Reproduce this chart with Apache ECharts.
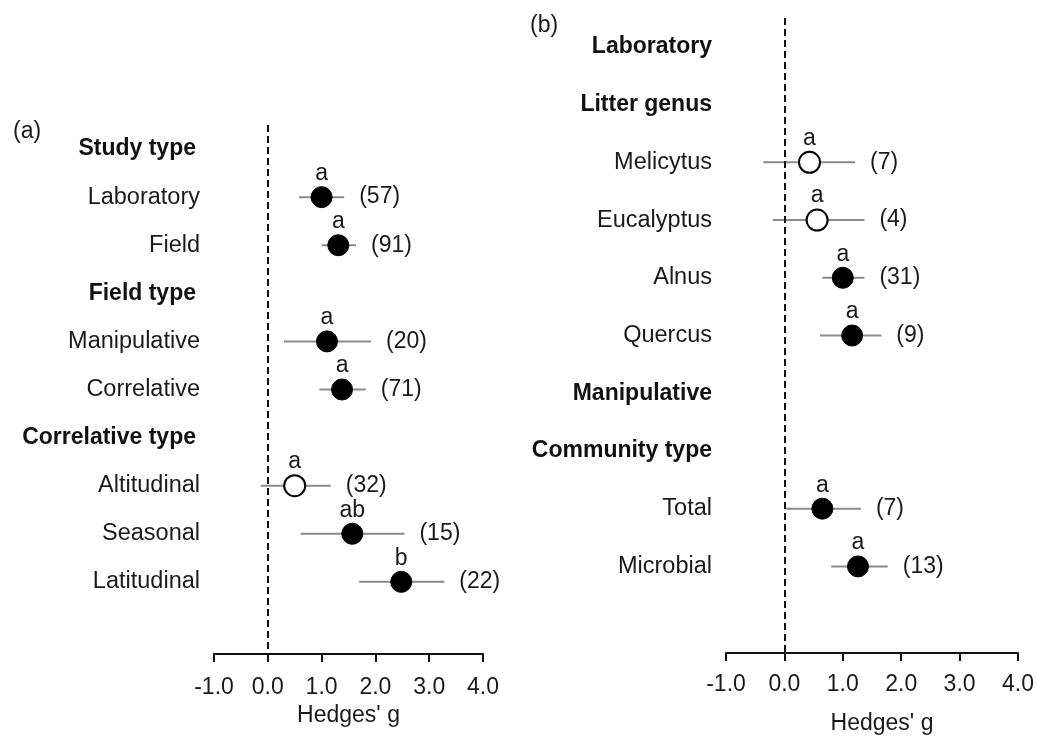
<!DOCTYPE html>
<html>
<head>
<meta charset="utf-8">
<script src="https://cdn.jsdelivr.net/npm/echarts@6/dist/echarts.min.js"></script>
<style>
html,body{margin:0;padding:0;background:#fff;}
#chart{width:1037px;height:740px;}
</style>
</head>
<body>
<div id="chart"></div>
<script>
// ---- Panel (a) data ----
const catsA = ['Study type','Laboratory','Field','Field type','Manipulative','Correlative','Correlative type','Altitudinal','Seasonal','Latitudinal'];
const headersA = ['Study type','Field type','Correlative type'];
const namesA = ['Laboratory','Field','Manipulative','Correlative','Altitudinal','Seasonal','Latitudinal'];
const meanA = [1.00, 1.31, 1.10, 1.38, 0.50, 1.57, 2.48];
const lowA  = [0.58, 1.00, 0.30, 0.96, -0.13, 0.61, 1.70];
const highA = [1.42, 1.64, 1.92, 1.82, 1.17, 2.54, 3.28];
const nA    = [57, 91, 20, 71, 32, 15, 22];
const letA  = ['a','a','a','a','a','ab','b'];
const openA = [false, false, false, false, true, false, false];

// ---- Panel (b) data ----
const catsB = ['Laboratory','Litter genus','Melicytus','Eucalyptus','Alnus','Quercus','Manipulative','Community type','Total','Microbial'];
const headersB = ['Laboratory','Litter genus','Manipulative','Community type'];
const namesB = ['Melicytus','Eucalyptus','Alnus','Quercus','Total','Microbial'];
const meanB = [0.43, 0.56, 1.00, 1.16, 0.65, 1.26];
const lowB  = [-0.36, -0.20, 0.65, 0.61, 0.02, 0.80];
const highB = [1.21, 1.37, 1.37, 1.66, 1.31, 1.77];
const nB    = [7, 4, 31, 9, 7, 13];
const letB  = ['a','a','a','a','a','a'];
const openB = [true, true, false, false, false, false];

const xTicks = [-1, 0, 1, 2, 3, 4];

const FONT = 'Liberation Sans, Arial, Helvetica, sans-serif';
const FS = 23;
const TXT = '#1a1a1a';

const chart = echarts.init(document.getElementById('chart'));

function yAxisFor(cats, headers, gridIndex, headerPad) {
  return {
    type: 'category', gridIndex: gridIndex, inverse: true,
    data: cats.concat(['']),
    axisLine: {show: false}, axisTick: {show: false}, splitLine: {show: false},
    axisLabel: {
      margin: 14, interval: 0,
      formatter: function (v) { return headers.indexOf(v) >= 0 ? '{h|' + v + '}' : (v === '' ? '' : '{n|' + v + '}'); },
      rich: {
        h: {fontFamily: FONT, fontSize: FS, fontWeight: 'bold', color: '#111', padding: [0, headerPad, 0, 0]},
        n: {fontFamily: FONT, fontSize: FS + 0.5, color: TXT}
      }
    }
  };
}

function xAxisFor(gridIndex, labelMargin, nameGap, namePad) {
  return {
    type: 'value', gridIndex: gridIndex, min: xTicks[0], max: xTicks[xTicks.length - 1], interval: 1,
    axisLine: {show: true, onZero: false, lineStyle: {color: '#111', width: 2}},
    axisTick: {show: true, inside: false, length: 8, lineStyle: {color: '#111', width: 2}},
    splitLine: {show: false},
    axisLabel: {margin: labelMargin, fontFamily: FONT, fontSize: FS, color: TXT,
      formatter: function (v) { return v.toFixed(1); }},
    name: "Hedges' g", nameLocation: 'middle', nameGap: nameGap,
    nameTextStyle: {fontFamily: FONT, fontSize: FS, color: TXT, padding: namePad}
  };
}

function errSeries(names, low, high, n, idx) {
  const data = names.map((nm, i) => [low[i], high[i], nm, n[i]]);
  return {
    type: 'custom', xAxisIndex: idx, yAxisIndex: idx, z: 2,
    data: data,
    encode: {x: [0, 1], y: 2},
    renderItem: function (params, api) {
      const y = api.value(2);
      const p1 = api.coord([api.value(0), y]);
      const p2 = api.coord([api.value(1), y]);
      return {
        type: 'group',
        children: [
          {type: 'line', shape: {x1: p1[0], y1: p1[1], x2: p2[0], y2: p2[1]},
           style: {stroke: '#8a8a8a', lineWidth: 2}},
          {type: 'text', style: {text: '(' + api.value(3) + ')', x: p2[0] + 15, y: p2[1],
            fill: TXT, fontSize: FS, fontFamily: FONT, verticalAlign: 'middle', align: 'left'}}
        ]
      };
    }
  };
}

function pointSeries(names, mean, letters, open, idx) {
  return {
    type: 'scatter', xAxisIndex: idx, yAxisIndex: idx, z: 3,
    symbol: 'circle', symbolSize: 21,
    data: names.map((nm, i) => ({
      value: [mean[i], nm],
      itemStyle: open[i] ? {color: '#fff', borderColor: '#000', borderWidth: 2, opacity: 1}
                         : {color: '#000', borderColor: '#000', borderWidth: 1, opacity: 1}
    })),
    label: {show: true, position: 'top', distance: 1,
      formatter: function (p) { return letters[p.dataIndex]; },
      fontFamily: FONT, fontSize: FS, color: TXT, opacity: 1},
    emphasis: {disabled: true},
    markLine: {
      silent: true, symbol: 'none', label: {show: false},
      lineStyle: {color: '#111', type: [7, 4], width: 2, opacity: 1},
      data: [{xAxis: 0}]
    }
  };
}

chart.setOption({
  animation: false,
  backgroundColor: '#fff',
  grid: [
    {left: 214, right: 554, top: 125, bottom: 86},
    {left: 726, right: 18, top: 18, bottom: 83}
  ],
  xAxis: [xAxisFor(0, 22, 47, [0, 0, 0, 0]), xAxisFor(1, 20, 59, [0, 0, 0, 20])],
  yAxis: [yAxisFor(catsA, headersA, 0, 4), yAxisFor(catsB, headersB, 1, 0)],
  graphic: [
    {type: 'text', left: 13, top: 120, style: {text: '(a)', fontFamily: FONT, fontSize: FS, fill: TXT}},
    {type: 'text', left: 530, top: 14, style: {text: '(b)', fontFamily: FONT, fontSize: FS, fill: TXT}}
  ],
  series: [
    errSeries(namesA, lowA, highA, nA, 0),
    pointSeries(namesA, meanA, letA, openA, 0),
    errSeries(namesB, lowB, highB, nB, 1),
    pointSeries(namesB, meanB, letB, openB, 1)
  ]
});
</script>
</body>
</html>
